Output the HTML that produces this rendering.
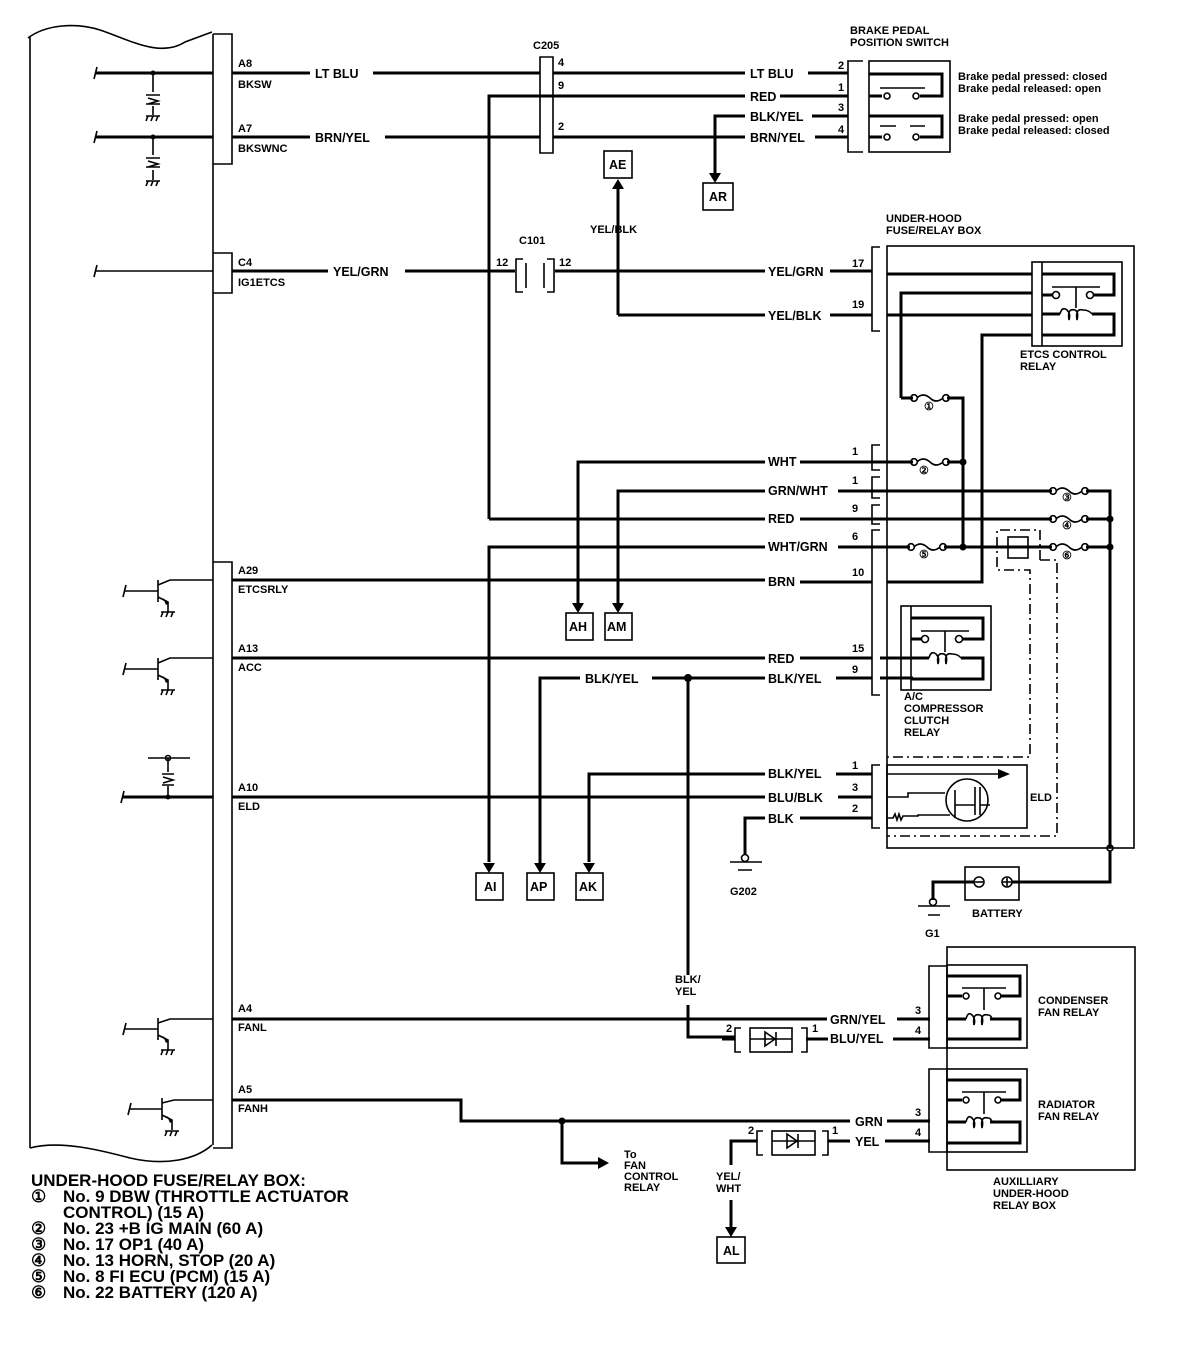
<!DOCTYPE html>
<html><head><meta charset="utf-8"><style>
html,body{margin:0;padding:0;background:#fff;}
svg{display:block;}
text{font-family:"Liberation Sans",sans-serif;font-weight:bold;fill:#000;}
.w{stroke:#000;stroke-width:3;fill:none;}
.t{stroke:#000;stroke-width:1.6;fill:none;}
.d{stroke:#000;stroke-width:1.6;fill:none;stroke-dasharray:10 4 2 4;}
.l{font-size:12.5px;}
.s{font-size:11px;}
</style></head><body>
<svg width="1184" height="1358" viewBox="0 0 1184 1358" xmlns="http://www.w3.org/2000/svg">
<defs>
<g id="relay">
<rect x="0" y="0" width="90" height="84" class="t"/>
<line x1="10" y1="0" x2="10" y2="84" class="t"/>
<path d="M10,12 H82 V33 H62 M10,33 H20 M10,52 H28 M60,52 H82 V73 H10" class="w"/>
<circle cx="24" cy="33" r="3.5" class="t" fill="#fff"/>
<circle cx="58" cy="33" r="3.5" class="t" fill="#fff"/>
<path d="M20,25 H68 M44,25 V46" class="t"/>
<path d="M28,52 q2,-8 7,-4 q4,4 2,10 q-2,-12 6,-10 q4,2 2,10 q-2,-12 6,-10 q6,0 9,4" class="t"/>
</g>
<g id="fuse">
<circle cx="0" cy="0" r="3.3" class="t" fill="#fff"/>
<circle cx="32" cy="0" r="3.3" class="t" fill="#fff"/>
<path d="M3,0 q6,-6 13,0 q6,6 13,0" class="t"/>
</g>
<g id="gnd"><path d="M-7,0 H7 M-5,0 l-2,5 M0,0 l-2,5 M5,0 l-2,5" class="t"/></g>
<g id="arrD"><path d="M-6,-10 H6 L0,0 Z" fill="#000"/></g>
</defs>

<!-- ECM outline -->
<path d="M28,38 C45,25 75,22 100,30 C130,40 160,58 185,42 L212,32" class="t"/>
<line x1="30" y1="37" x2="30" y2="1148" class="t" stroke-width="2"/>
<line x1="213" y1="34" x2="213" y2="1145" class="t" stroke-width="2"/>
<path d="M30,1148 C60,1140 100,1150 130,1158 C165,1166 195,1160 212,1145" class="t"/>
<path d="M213,34 H232 V164 H213" class="t"/>
<path d="M213,253 H232 V293 H213" class="t"/>
<path d="M213,562 H232 V1148 H213" class="t"/>

<!-- A8 -->
<path d="M95,73 H213" class="w"/><path d="M97,67 l-3,12" class="t"/>
<circle cx="153" cy="73" r="2.5" fill="#000"/>
<path d="M153,73 V92 M153,106 V115" class="t"/>
<path d="M146,95 H160 M148,98 l10,3 l-10,3 M146,104 H160" class="t"/>
<use href="#gnd" x="153" y="116"/>
<text x="238" y="67" class="s">A8</text><text x="238" y="88" class="s">BKSW</text>
<path d="M232,73 H310 M373,73 H540 M553,73 H745 M808,73 H848" class="w"/>
<text x="315" y="78" class="l">LT BLU</text><text x="750" y="78" class="l">LT BLU</text>
<!-- A7 -->
<path d="M95,137 H213" class="w"/><path d="M97,131 l-3,12" class="t"/>
<circle cx="153" cy="137" r="2.5" fill="#000"/>
<path d="M153,137 V155 M153,170 V180" class="t"/>
<path d="M146,158 H160 M148,161 l10,3 l-10,3 M146,167 H160" class="t"/>
<use href="#gnd" x="153" y="181"/>
<text x="238" y="132" class="s">A7</text><text x="238" y="152" class="s">BKSWNC</text>
<path d="M232,137 H310 M385,137 H540 M553,137 H745 M815,137 H848" class="w"/>
<text x="315" y="142" class="l">BRN/YEL</text><text x="750" y="142" class="l">BRN/YEL</text>
<!-- C205 -->
<text x="533" y="49" class="s">C205</text>
<path d="M540,57 H553 V153 H540 Z" class="t"/>
<text x="558" y="66" class="s">4</text><text x="558" y="89" class="s">9</text><text x="558" y="130" class="s">2</text>
<path d="M489,519 V96 H745 M780,96 H848" class="w"/>
<text x="750" y="101" class="l">RED</text>
<path d="M715,180 V116 H745 M812,116 H848" class="w"/>
<text x="750" y="121" class="l">BLK/YEL</text>
<use href="#arrD" x="715" y="183"/>
<rect x="703" y="183" width="30" height="27" class="t"/><text x="709" y="201" class="l">AR</text>
<!-- brake switch -->
<text x="850" y="34" class="s">BRAKE PEDAL</text><text x="850" y="46" class="s">POSITION SWITCH</text>
<path d="M863,61 H848 V152 H863" class="t"/>
<rect x="869" y="61" width="81" height="91" class="t"/>
<text x="838" y="69" class="s">2</text><text x="838" y="91" class="s">1</text><text x="838" y="111" class="s">3</text><text x="838" y="133" class="s">4</text>
<path d="M869,74 H942 V96 H920 M869,96 H882 M869,116 H942 V137 H920 M869,137 H882" class="w"/>
<circle cx="887" cy="96" r="3" class="t" fill="#fff"/><circle cx="916" cy="96" r="3" class="t" fill="#fff"/>
<circle cx="887" cy="137" r="3" class="t" fill="#fff"/><circle cx="916" cy="137" r="3" class="t" fill="#fff"/>
<path d="M880,88 H925 M880,126 H896 M910,126 H925" class="t"/>
<text x="958" y="80" class="s">Brake pedal pressed: closed</text>
<text x="958" y="92" class="s">Brake pedal released: open</text>
<text x="958" y="122" class="s">Brake pedal pressed: open</text>
<text x="958" y="134" class="s">Brake pedal released: closed</text>

<!-- C4 -->
<path d="M95,271 H213" class="t" stroke-width="2"/><path d="M97,265 l-3,12" class="t"/>
<text x="238" y="266" class="s">C4</text><text x="238" y="286" class="s">IG1ETCS</text>
<path d="M232,271 H328 M405,271 H515 M555,271 H765 M830,271 H872" class="w"/>
<text x="333" y="276" class="l">YEL/GRN</text><text x="768" y="276" class="l">YEL/GRN</text>
<text x="519" y="244" class="s">C101</text>
<path d="M523,259 H516 V292 H523 M526,263 V288 M547,259 H554 V292 H547 M544,263 V288" class="t"/>
<text x="496" y="266" class="s">12</text><text x="559" y="266" class="s">12</text>
<rect x="604" y="151" width="28" height="27" class="t"/><text x="609" y="169" class="l">AE</text>
<path d="M618,315 V188 M618,315 H765 M830,315 H872" class="w"/>
<path d="M612,189 H624 L618,179 Z" fill="#000"/>
<text x="590" y="233" class="s">YEL/BLK</text>
<text x="768" y="320" class="l">YEL/BLK</text>

<!-- under-hood fuse box -->
<text x="886" y="222" class="s">UNDER-HOOD</text><text x="886" y="234" class="s">FUSE/RELAY BOX</text>
<rect x="887" y="246" width="247" height="602" class="t"/>
<path d="M880,247 H872 V331 H880" class="t"/>
<text x="852" y="267" class="s">17</text><text x="852" y="308" class="s">19</text>
<use href="#relay" x="1032" y="262"/>
<text x="1020" y="358" class="s">ETCS CONTROL</text><text x="1020" y="370" class="s">RELAY</text>
<path d="M887,274 H1032 M887,315 H1032 M901,398 V293 H1032 M887,582 H982 V335 H1032" class="w"/>
<path d="M901,398 H913 M947,398 H963 V547" class="w"/>
<use href="#fuse" x="914" y="398"/><text x="924" y="410" class="s">①</text>
<path d="M880,445 H872 V470 H880" class="t"/><text x="852" y="455" class="s">1</text>
<path d="M832,462 H913 M947,462 H963" class="w"/>
<use href="#fuse" x="914" y="462"/><text x="919" y="474" class="s">②</text>
<circle cx="963" cy="462" r="3.5" fill="#000"/>
<path d="M880,477 H872 V498 H880" class="t"/><text x="852" y="484" class="s">1</text>
<path d="M838,491 H1052 M1086,491 H1110 V848" class="w"/>
<use href="#fuse" x="1053" y="491"/><text x="1062" y="501" class="s">③</text>
<path d="M880,505 H872 V524 H880" class="t"/><text x="852" y="512" class="s">9</text>
<path d="M832,519 H1052 M1086,519 H1110" class="w"/>
<use href="#fuse" x="1053" y="519"/><text x="1062" y="529" class="s">④</text>
<circle cx="1110" cy="519" r="3.5" fill="#000"/>
<path d="M880,530 H872 V695 H880" class="t"/>
<text x="852" y="540" class="s">6</text><text x="852" y="576" class="s">10</text>
<text x="852" y="652" class="s">15</text><text x="852" y="673" class="s">9</text>
<path d="M838,547 H910 M944,547 H1052 M1086,547 H1110" class="w"/>
<use href="#fuse" x="911" y="547"/><text x="919" y="558" class="s">⑤</text>
<use href="#fuse" x="1053" y="547"/><text x="1062" y="559" class="s">⑥</text>
<circle cx="963" cy="547" r="3.5" fill="#000"/><circle cx="1110" cy="547" r="3.5" fill="#000"/>
<rect x="1008" y="537" width="20" height="21" class="t" fill="#fff"/>
<path d="M1040,560 V530 H997 V570 H1030 V757 H887" class="d"/>
<path d="M1040,560 H1057 V836 H887" class="d"/>
<circle cx="1110" cy="848" r="3" class="t" fill="#fff"/>
<use href="#relay" x="901" y="606"/>
<path d="M880,658 H913 M880,678 H913" class="w"/>
<text x="904" y="700" class="s">A/C</text><text x="904" y="712" class="s">COMPRESSOR</text>
<text x="904" y="724" class="s">CLUTCH</text><text x="904" y="736" class="s">RELAY</text>
<path d="M880,765 H872 V828 H880" class="t"/>
<rect x="887" y="765" width="140" height="63" class="t"/>
<text x="852" y="769" class="s">1</text><text x="852" y="791" class="s">3</text><text x="852" y="812" class="s">2</text>
<path d="M887,774 H1000" class="t" stroke-width="2"/><path d="M998,769 L1010,774 L998,779 Z" fill="#000"/>
<path d="M887,797 H908 V793 H945" class="t" stroke-width="2"/>
<path d="M887,818 H893 l2,-4 l2,6 l2,-6 l2,6 l2,-4 H918 V815 H950" class="t"/>
<circle cx="967" cy="800" r="21" class="t"/>
<path d="M955,790 V818 M955,805 H975 M975,787 V815 M980,787 V815 M980,805 H990" class="t"/>
<text x="1030" y="801" class="s">ELD</text>

<!-- transistors -->
<path d="M125,591 H158 M158,580 V602 M158,585 L170,580 H213 M158,597 L168,602 V612" class="t"/>
<path d="M126,585 l-3,12" class="t"/><path d="M163,598 l6,5 l-3,2 Z" fill="#000"/>
<use href="#gnd" x="168" y="612"/>
<path d="M125,669 H158 M158,658 V680 M158,663 L170,658 H213 M158,675 L168,680 V690" class="t"/>
<path d="M126,663 l-3,12" class="t"/><path d="M163,676 l6,5 l-3,2 Z" fill="#000"/>
<use href="#gnd" x="168" y="690"/>
<path d="M125,1029 H158 M158,1018 V1040 M158,1023 L170,1019 H213 M158,1035 L168,1040 V1050" class="t"/>
<path d="M126,1023 l-3,12" class="t"/><path d="M163,1036 l6,5 l-3,2 Z" fill="#000"/>
<use href="#gnd" x="168" y="1050"/>
<path d="M130,1109 H162 M162,1098 V1120 M162,1103 L174,1100 H213 M162,1115 L172,1120 V1130" class="t"/>
<path d="M131,1103 l-3,12" class="t"/><path d="M167,1116 l6,5 l-3,2 Z" fill="#000"/>
<use href="#gnd" x="172" y="1131"/>
<path d="M148,758 H190 M168,758 V772 M168,786 V797" class="t"/>
<circle cx="168" cy="758" r="2.5" class="t" fill="#fff"/>
<path d="M162,774 H174 M163,777 l10,3 l-10,3 M162,785 H174" class="t"/>
<path d="M122,797 H213" class="w"/><path d="M124,791 l-3,12" class="t"/>
<circle cx="168" cy="797" r="2.5" fill="#000"/>

<text x="238" y="574" class="s">A29</text><text x="238" y="593" class="s">ETCSRLY</text>
<path d="M232,580 H765 M800,582 H872" class="w"/>
<text x="768" y="586" class="l">BRN</text>
<text x="238" y="652" class="s">A13</text><text x="238" y="671" class="s">ACC</text>
<path d="M232,658 H765 M800,658 H872" class="w"/>
<text x="768" y="663" class="l">RED</text>
<path d="M540,870 V678 H580 M652,678 H765 M836,678 H872" class="w"/>
<text x="585" y="683" class="l">BLK/YEL</text><text x="768" y="683" class="l">BLK/YEL</text>
<circle cx="688" cy="678" r="4" fill="#000"/>
<path d="M688,678 V975 M688,1005 V1037 H735" class="w"/>
<text x="675" y="983" class="s">BLK/</text><text x="675" y="995" class="s">YEL</text>
<path d="M578,610 V462 H765" class="w"/><text x="768" y="466" class="l">WHT</text>
<path d="M618,610 V491 H765" class="w"/><text x="768" y="495" class="l">GRN/WHT</text>
<path d="M800,519 H832 M489,519 H765" class="w"/><text x="768" y="523" class="l">RED</text>
<path d="M489,862 V547 H765" class="w"/><text x="768" y="551" class="l">WHT/GRN</text>
<path d="M800,462 H832" class="w"/>
<use href="#arrD" x="578" y="613"/><use href="#arrD" x="618" y="613"/>
<rect x="566" y="613" width="27" height="27" class="t"/><text x="569" y="631" class="l">AH</text>
<rect x="605" y="613" width="27" height="27" class="t"/><text x="607" y="631" class="l">AM</text>
<text x="238" y="791" class="s">A10</text><text x="238" y="810" class="s">ELD</text>
<path d="M589,862 V774 H765 M836,774 H872" class="w"/>
<text x="768" y="778" class="l">BLK/YEL</text>
<path d="M232,797 H765 M838,797 H872" class="w"/>
<text x="768" y="802" class="l">BLU/BLK</text>
<path d="M745,855 V818 H765 M800,818 H872" class="w"/>
<text x="768" y="823" class="l">BLK</text>
<circle cx="745" cy="858" r="3.5" class="t" fill="#fff"/>
<path d="M730,862 H762 M738,870 H752" class="t" stroke-width="2"/>
<text x="730" y="895" class="s">G202</text>
<use href="#arrD" x="489" y="873"/><use href="#arrD" x="540" y="873"/><use href="#arrD" x="589" y="873"/>
<rect x="476" y="873" width="27" height="27" class="t"/><text x="484" y="891" class="l">AI</text>
<rect x="527" y="873" width="27" height="27" class="t"/><text x="530" y="891" class="l">AP</text>
<rect x="576" y="873" width="27" height="27" class="t"/><text x="579" y="891" class="l">AK</text>
<rect x="965" y="867" width="54" height="33" class="t"/>
<circle cx="979" cy="882" r="5" class="t"/><path d="M975,882 H983" class="t"/>
<circle cx="1007" cy="882" r="5" class="t"/><path d="M1003,882 H1011 M1007,878 V886" class="t"/>
<path d="M1012,882 H1110 V851 M974,882 H933 V900" class="w"/>
<circle cx="933" cy="902" r="3.5" class="t" fill="#fff"/>
<path d="M918,906 H950 M928,915 H940" class="t" stroke-width="2"/>
<text x="925" y="937" class="s">G1</text>
<text x="972" y="917" class="s">BATTERY</text>

<text x="238" y="1012" class="s">A4</text><text x="238" y="1031" class="s">FANL</text>
<path d="M232,1019 H827 M897,1019 H930" class="w"/>
<text x="830" y="1024" class="l">GRN/YEL</text>
<path d="M735,1039 H722 M806,1039 H828 M893,1039 H930" class="w"/>
<text x="830" y="1043" class="l">BLU/YEL</text>
<text x="726" y="1032" class="s">2</text><text x="812" y="1032" class="s">1</text>
<path d="M741,1028 H735 V1052 H741 M801,1028 H807 V1052 H801" class="t"/>
<rect x="750" y="1028" width="42" height="24" class="t"/>
<path d="M750,1039 H792" class="t" stroke-width="2"/>
<path d="M765,1032 L775,1039 L765,1046 Z M776,1032 V1046" fill="#000" class="t"/>
<text x="238" y="1093" class="s">A5</text><text x="238" y="1112" class="s">FANH</text>
<path d="M232,1100 H461 V1121 H850 M887,1121 H930" class="w"/>
<text x="855" y="1126" class="l">GRN</text>
<circle cx="562" cy="1121" r="3.5" fill="#000"/>
<path d="M562,1121 V1163 H600" class="w"/><path d="M598,1157 L609,1163 L598,1169 Z" fill="#000"/>
<text x="624" y="1158" class="s">To</text><text x="624" y="1169" class="s">FAN</text>
<text x="624" y="1180" class="s">CONTROL</text><text x="624" y="1191" class="s">RELAY</text>
<path d="M731,1165 V1141 H757 M828,1141 H850 M885,1141 H930" class="w"/>
<text x="855" y="1146" class="l">YEL</text>
<text x="748" y="1134" class="s">2</text><text x="832" y="1134" class="s">1</text>
<path d="M763,1131 H757 V1155 H763 M822,1131 H828 V1155 H822" class="t"/>
<rect x="772" y="1131" width="43" height="24" class="t"/>
<path d="M772,1141 H815" class="t" stroke-width="2"/>
<path d="M787,1134 L797,1141 L787,1148 Z M798,1134 V1148" fill="#000" class="t"/>
<text x="716" y="1180" class="s">YEL/</text><text x="716" y="1192" class="s">WHT</text>
<path d="M731,1200 V1228" class="w"/><use href="#arrD" x="731" y="1237"/>
<rect x="717" y="1237" width="28" height="26" class="t"/><text x="723" y="1255" class="l">AL</text>
<rect x="947" y="947" width="188" height="223" class="t"/>
<path d="M947,966 H929 V1048 H947 M947,1069 H929 V1152 H947" class="t"/>
<text x="915" y="1014" class="s">3</text><text x="915" y="1034" class="s">4</text>
<text x="915" y="1116" class="s">3</text><text x="915" y="1136" class="s">4</text>
<rect x="947" y="965" width="80" height="83" class="t"/>
<rect x="947" y="1069" width="80" height="83" class="t"/>
<path d="M947,976 H1020 V996 H1000 M947,996 H962 M947,1019 H966 M990,1019 H1020 V1039 H947" class="w"/>
<circle cx="966" cy="996" r="3" class="t" fill="#fff"/><circle cx="998" cy="996" r="3" class="t" fill="#fff"/>
<path d="M962,988 H1006 M984,988 V1010 M966,1019 q2,-8 6,-4 q4,4 2,10 q-2,-12 6,-10 q4,2 2,10 q-2,-12 6,-10 q3,0 4,4" class="t"/>
<path d="M947,1080 H1020 V1100 H1000 M947,1100 H962 M947,1122 H966 M990,1122 H1020 V1143 H947" class="w"/>
<circle cx="966" cy="1100" r="3" class="t" fill="#fff"/><circle cx="998" cy="1100" r="3" class="t" fill="#fff"/>
<path d="M962,1092 H1006 M984,1092 V1114 M966,1122 q2,-8 6,-4 q4,4 2,10 q-2,-12 6,-10 q4,2 2,10 q-2,-12 6,-10 q3,0 4,4" class="t"/>
<text x="1038" y="1004" class="s">CONDENSER</text><text x="1038" y="1016" class="s">FAN RELAY</text>
<text x="1038" y="1108" class="s">RADIATOR</text><text x="1038" y="1120" class="s">FAN RELAY</text>
<text x="993" y="1185" class="s">AUXILLIARY</text><text x="993" y="1197" class="s">UNDER-HOOD</text><text x="993" y="1209" class="s">RELAY BOX</text>

<g>
<text x="31" y="1186" style="font-size:17px">UNDER-HOOD FUSE/RELAY BOX:</text>
<text x="31" y="1202" style="font-size:17px">①</text><text x="63" y="1202" style="font-size:17px">No. 9 DBW (THROTTLE ACTUATOR</text>
<text x="63" y="1218" style="font-size:17px">CONTROL) (15 A)</text>
<text x="31" y="1234" style="font-size:17px">②</text><text x="63" y="1234" style="font-size:17px">No. 23 +B IG MAIN (60 A)</text>
<text x="31" y="1250" style="font-size:17px">③</text><text x="63" y="1250" style="font-size:17px">No. 17 OP1 (40 A)</text>
<text x="31" y="1266" style="font-size:17px">④</text><text x="63" y="1266" style="font-size:17px">No. 13 HORN, STOP (20 A)</text>
<text x="31" y="1282" style="font-size:17px">⑤</text><text x="63" y="1282" style="font-size:17px">No. 8 FI ECU (PCM) (15 A)</text>
<text x="31" y="1298" style="font-size:17px">⑥</text><text x="63" y="1298" style="font-size:17px">No. 22 BATTERY (120 A)</text>
</g>
</svg>
</body></html>
